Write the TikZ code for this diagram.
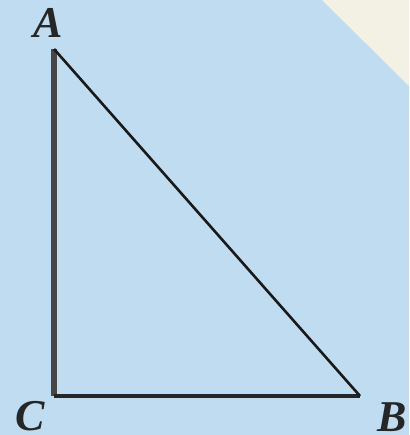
\documentclass[tikz,border=0pt]{standalone}
\usepackage{fontspec}
\setmainfont{Liberation Serif}
\definecolor{bgblue}{HTML}{BFDCF0}
\definecolor{cream}{HTML}{F3F1E3}
\definecolor{edgegray}{HTML}{464646}
\begin{document}
\begin{tikzpicture}[x=1pt,y=-1pt,
  lbl/.style={font=\fontsize{44}{44}\selectfont\bfseries\itshape, text=black!85, inner sep=0pt},
  side/.style={draw=edgegray, line join=miter}]
\fill[bgblue] (0,0) rectangle (409,435);
\useasboundingbox (0,0) rectangle (409,435);
\fill[cream] (322,0) -- (409,0) -- (409,86) -- cycle;
\coordinate (A) at (54,49);
\coordinate (C) at (54,396);
\coordinate (B) at (360,396);
\draw[side, line width=5.5pt] (A) -- (C);
\draw[side, draw=black!85, line width=4pt] (C) -- (B);
\draw[side, draw=black!90, line width=2.6pt] (A) -- (B);
\node[lbl] (la) at (48,23) {A};
\node[lbl] (lc) at (30,416) {C};
\node[lbl] (lb) at (392,417) {B};
\end{tikzpicture}
\end{document}
